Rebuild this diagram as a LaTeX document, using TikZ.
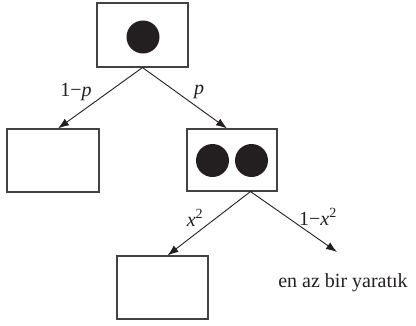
\documentclass[tikz,border=0pt]{standalone}
\usepackage{fontspec}
\setmainfont{Liberation Serif}
\usetikzlibrary{arrows.meta}
\definecolor{ink}{HTML}{231F20}
\tikzset{
  box/.style={draw=ink!85, line width=1.1pt, minimum width=91pt, minimum height=63pt, inner sep=0pt},
  dot/.style={circle, fill=ink, minimum size=33pt, inner sep=0pt},
  arr/.style={draw=ink, line width=0.9pt, -{Latex[length=11pt,width=8pt]}},
  lab/.style={font=\fontsize{20}{23}\selectfont, inner sep=0pt, text=ink}
}
\begin{document}
\begin{tikzpicture}[x=1pt,y=-1pt]
\useasboundingbox (0,0) rectangle (416,325);
\node[box, minimum width=91pt, minimum height=64pt] (top) at (142.5,35) {};
\node[dot] (d0) at (143,37) {};
\node[box, minimum width=92pt] (left) at (53,160.5) {};
\node[box, minimum width=90pt, minimum height=62pt] (right) at (232,160) {};
\node[dot] (d1) at (212.5,160.5) {};
\node[dot] (d2) at (251.5,160.5) {};
\node[box] (bottom) at (162.5,287.5) {};
\node[lab, anchor=base] (txt) at (343,287) {en az bir yaratık};
\coordinate (tipR) at (337,252);
\draw[arr] (top.south) -- ([xshift=5pt]left.north);
\draw[arr] (top.south) -- ([xshift=-5pt]right.north);
\draw[arr] ([xshift=18.5pt]right.south) -- ([xshift=5pt]bottom.north);
\draw[arr] ([xshift=18.5pt]right.south) -- (tipR);
\node[lab] (l1) at (76,92) {1−\textit{p}};
\node[lab] (l2) at (199,92) {\textit{p}};
\node[lab] (l3) at (195,218) {\textit{x}\textsuperscript{2}};
\node[lab] (l4) at (318,217) {1−\textit{x}\textsuperscript{2}};
\end{tikzpicture}
\end{document}
